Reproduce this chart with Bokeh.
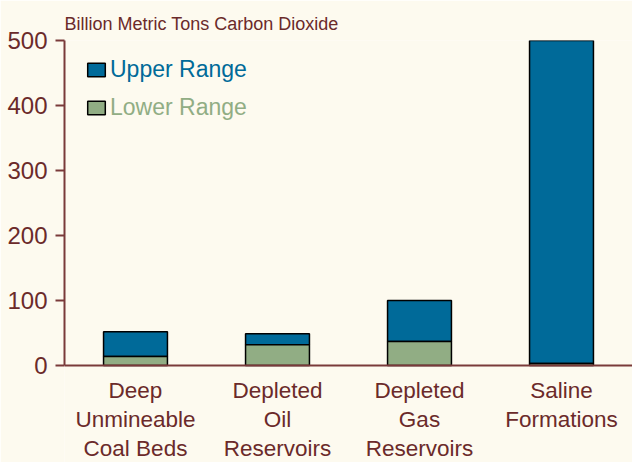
from bokeh.plotting import figure
from bokeh.models import (ColumnDataSource, Range1d, FixedTicker, Legend, LegendItem, Title, Span)
from bokeh.core.properties import value
from bokeh.embed import file_html
from bokeh.resources import INLINE

# ---- data ----
categories = ["Deep\nUnmineable\nCoal Beds", "Depleted\nOil\nReservoirs",
              "Depleted\nGas\nReservoirs", "Saline\nFormations"]
lower_range = [14, 32, 37, 3]
upper_range = [52, 49, 100, 500]
y_ticks = [0, 100, 200, 300, 400, 500]
unit_label = "Billion Metric Tons Carbon Dioxide"

BG = "#FDFAEF"
TXT = "#6B2A2A"
AXC = "#7A3A3A"
BLUE = "#006A99"
GREEN = "#91AD84"
FONT = "Liberation Sans"

W, H = 632, 462
FRAME_TOP = 40          # px from top
ZERO_Y = 365            # px from top where value 0 sits
px_per_unit = (ZERO_Y - FRAME_TOP) / 500.0
y_start = -(H - ZERO_Y) / px_per_unit   # extend frame down so category labels fit under the baseline

src = ColumnDataSource(dict(cat=categories, lower=lower_range, upper=upper_range,
                            zero=[0] * len(categories)))

p = figure(x_range=categories, y_range=Range1d(y_start, 500), width=W, height=H,
           output_backend="svg", toolbar_location=None, x_axis_location=None,
           min_border_left=64, min_border_right=0, min_border_top=FRAME_TOP, min_border_bottom=0)
p.background_fill_color = BG
p.border_fill_color = BG
p.outline_line_color = None
p.xgrid.visible = False
p.ygrid.visible = False

r_up = p.vbar(x="cat", bottom="lower", top="upper", width=0.45, source=src,
              fill_color=BLUE, line_color="black", line_width=1.5)
r_lo = p.vbar(x="cat", bottom="zero", top="lower", width=0.45, source=src,
              fill_color=GREEN, line_color="black", line_width=1.5)

# baseline (category axis line)
p.add_layout(Span(location=0, dimension="width", line_color=AXC, line_width=2))

# category labels under the baseline
p.text(x="cat", y="zero", text="cat", source=src, y_offset=12,
       text_align="center", text_baseline="top", text_font=value(FONT),
       text_font_size="22.5px", text_color=TXT, text_line_height=1.17)

# y axis
ya = p.yaxis[0]
ya.bounds = (0, 500)
ya.ticker = FixedTicker(ticks=y_ticks)
ya.axis_line_color = AXC
ya.axis_line_width = 2
ya.major_tick_line_color = AXC
ya.major_tick_line_width = 2
ya.major_tick_out = 9
ya.major_tick_in = 0
ya.minor_tick_line_color = None
ya.major_label_text_font = FONT
ya.major_label_text_font_size = "24px"
ya.major_label_text_color = TXT
ya.major_label_standoff = 8

# unit label at top-left
t = Title(text=unit_label, align="left", text_font=FONT, text_font_size="18px",
          text_font_style="normal", text_color=TXT, standoff=13)
p.add_layout(t, "above")

# legends (one per entry so each label can carry its series colour)
def make_legend(label, rend, color, loc):
    lg = Legend(items=[LegendItem(label=label, renderers=[rend])], location=loc,
                orientation="vertical", padding=0, margin=0, spacing=0,
                border_line_color=None, background_fill_alpha=0,
                glyph_width=22, glyph_height=17, label_height=24, label_standoff=3,
                label_text_font=FONT, label_text_font_size="23px",
                label_text_color=color)
    p.add_layout(lg, "center")

make_legend("Upper Range", r_up, BLUE, (21, 379))
make_legend("Lower Range", r_lo, GREEN, (21, 341))

open("out.html", "w").write(file_html(p, INLINE))
